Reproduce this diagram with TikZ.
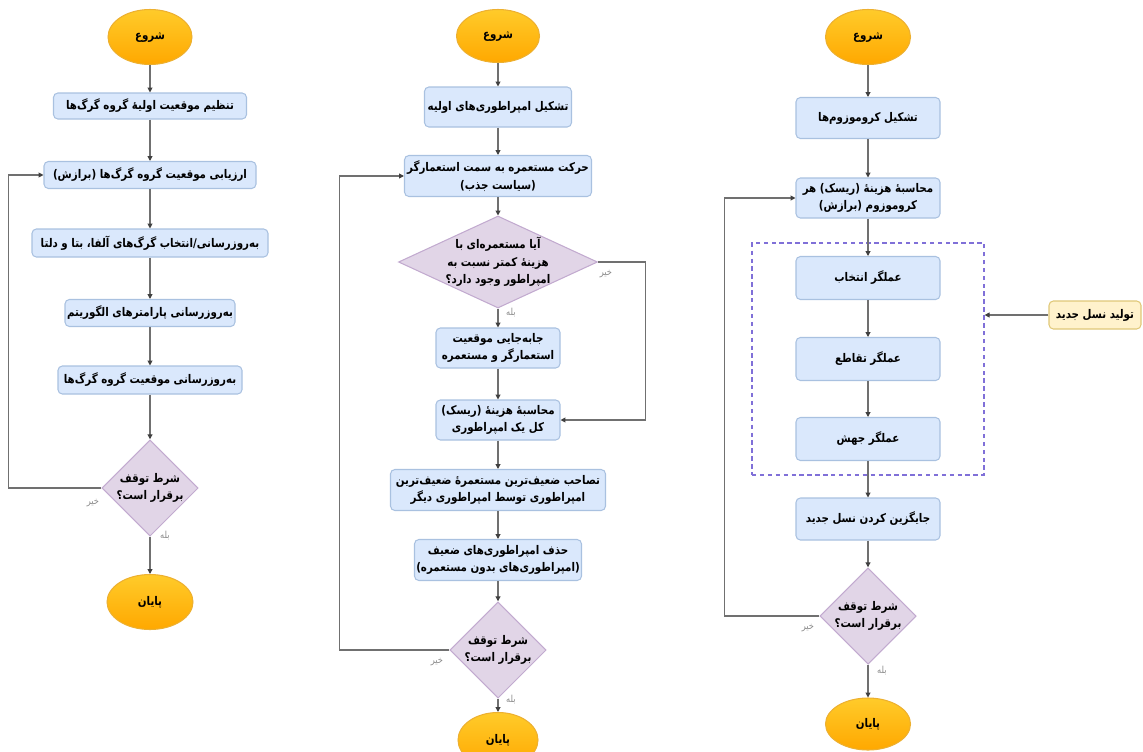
\documentclass[tikz,border=0pt]{standalone}
\usepackage{fontspec}
\usetikzlibrary{shapes.geometric,arrows.meta}
\TeXXeTstate=1
\newfontfamily\arabicfont[Script=Arabic,FakeStretch=0.86]{DejaVu Sans}
\newcommand\prs[1]{{\arabicfont\bfseries\beginR #1\endR}}
\newcommand\lbl[1]{{\arabicfont\beginR #1\endR}}
\def\U{0.02cm}
\definecolor{boxfill}{HTML}{DAE8FC}
\definecolor{boxdraw}{HTML}{A9C1E0}
\definecolor{decfill}{HTML}{E1D5E7}
\definecolor{decdraw}{HTML}{C2AACF}
\definecolor{termtop}{HTML}{FFCB2A}
\definecolor{termbot}{HTML}{FFA800}
\definecolor{termdraw}{HTML}{EDB030}
\definecolor{linecol}{HTML}{707070}
\definecolor{labcol}{HTML}{8A8A8A}
\definecolor{grpcol}{HTML}{8070D8}
\definecolor{yelfill}{HTML}{FFF2CC}
\definecolor{yeldraw}{HTML}{E0C878}
\tikzset{
  box/.style={draw=boxdraw, fill=boxfill, rounded corners=2.5pt, line width=0.6pt, inner sep=1pt, align=center, font=\fontsize{6.8}{10}\selectfont},
  term/.style={ellipse, draw=termdraw, top color=termtop, bottom color=termbot, line width=0.6pt, inner sep=0pt, font=\fontsize{6.8}{10}\selectfont},
  dec/.style={diamond, draw=decdraw, fill=decfill, line width=0.6pt, inner sep=0pt, align=center, font=\fontsize{6.8}{10}\selectfont},
  arr/.style={draw=linecol, line width=0.6pt, -{Triangle[length=2.8pt,width=2.8pt,color=black!75]}},
  lab/.style={text=labcol, inner sep=0pt, font=\fontsize{5.5}{6}\selectfont},
  grp/.style={draw=grpcol, dashed, dash pattern=on 2.5pt off 2pt, line width=0.7pt, inner sep=0pt},
  ybox/.style={draw=yeldraw, fill=yelfill, rounded corners=2.5pt, line width=0.6pt, inner sep=1pt, font=\fontsize{6.8}{10}\selectfont}
}
\begin{document}
\begin{tikzpicture}[x=0.02cm,y=-0.02cm]
\useasboundingbox (0,0) rectangle (1143,751);
% ---------------- left column ----------------
\node[term, minimum width=84*\U, minimum height=55*\U] (ls) at (150,37) {\prs{شروع}};
\node[box, minimum width=193*\U, minimum height=26*\U] (l1) at (150,106) {\prs{تنظیم موقعیت اولیه^^^^0654 گروه گرگ^^^^200cها}};
\node[box, minimum width=212*\U, minimum height=27*\U] (l2) at (150,175) {\prs{ارزیابی موقعیت گروه گرگ^^^^200cها (برازش)}};
\node[box, minimum width=236*\U, minimum height=28*\U] (l3) at (150,243) {\prs{به^^^^200cروزرسانی/انتخاب گرگ^^^^200cهای آلفا، بتا و دلتا}};
\node[box, minimum width=170*\U, minimum height=27*\U] (l4) at (150,313) {\prs{به^^^^200cروزرسانی پارامترهای الگوریتم}};
\node[box, minimum width=184*\U, minimum height=28*\U] (l5) at (150,380) {\prs{به^^^^200cروزرسانی موقعیت گروه گرگ^^^^200cها}};
\node[dec, aspect=1, minimum width=94*\U, minimum height=93*\U] (ld) at (150,488) {\prs{شرط توقف}\\\prs{برقرار است؟}};
\node[term, minimum width=86*\U, minimum height=55*\U] (le) at (150,602) {\prs{پایان}};
\draw[arr] (ls.south) -- (l1.north);
\draw[arr] (l1.south) -- (l2.north);
\draw[arr] (l2.south) -- (l3.north);
\draw[arr] (l3.south) -- (l4.north);
\draw[arr] (l4.south) -- (l5.north);
\draw[arr] (l5.south) -- (ld.north);
\draw[arr] (ld.south) -- (le.north);
\draw[arr] (ld.west) -- ++(-93,0) |- (l2.west);
\node[lab] (lno) at (93,503) {\lbl{خیر}};
\node[lab] (lyes) at (165,536) {\lbl{بله}};
% ---------------- middle column ----------------
\node[term, minimum width=83*\U, minimum height=53*\U] (ms) at (498,36) {\prs{شروع}};
\node[box, minimum width=147*\U, minimum height=40*\U] (m1) at (498,107) {\prs{تشکیل امپراطوری^^^^200cهای اولیه}};
\node[box, minimum width=187*\U, minimum height=41*\U] (m2) at (498,176) {\prs{حرکت مستعمره به سمت استعمارگر}\\\prs{(سیاست جذب)}};
\node[dec, aspect=2.16, inner sep=-2pt, minimum width=199*\U, minimum height=92*\U] (md1) at (498,262) {\prs{آیا مستعمره^^^^200cای با}\\\prs{هزینه^^^^0654 کمتر نسبت به}\\\prs{امپراطور وجود دارد؟}};
\node[box, minimum width=124*\U, minimum height=40*\U] (m3) at (498,348) {\prs{جابه^^^^200cجایی موقعیت}\\\prs{استعمارگر و مستعمره}};
\node[box, minimum width=124*\U, minimum height=40*\U] (m4) at (498,420) {\prs{محاسبه^^^^0654 هزینه^^^^0654 (ریسک)}\\\prs{کل یک امپراطوری}};
\node[box, minimum width=215*\U, minimum height=41*\U] (m5) at (498,490) {\prs{تصاحب ضعیف^^^^200cترین مستعمره^^^^0654 ضعیف^^^^200cترین}\\\prs{امپراطوری توسط امپراطوری دیگر}};
\node[box, minimum width=166*\U, minimum height=41*\U] (m6) at (498,560) {\prs{حذف امپراطوری^^^^200cهای ضعیف}\\\prs{(امپراطوری^^^^200cهای بدون مستعمره)}};
\node[dec, aspect=1, minimum width=91*\U, minimum height=90*\U] (md2) at (498,650) {\prs{شرط توقف}\\\prs{برقرار است؟}};
\node[term, minimum width=80*\U, minimum height=55*\U] (me) at (498,740) {\prs{پایان}};
\draw[arr] (ms.south) -- (m1.north);
\draw[arr] (m1.south) -- (m2.north);
\draw[arr] (m2.south) -- (md1.north);
\draw[arr] (md1.south) -- (m3.north);
\draw[arr] (m3.south) -- (m4.north);
\draw[arr] (m4.south) -- (m5.north);
\draw[arr] (m5.south) -- (m6.north);
\draw[arr] (m6.south) -- (md2.north);
\draw[arr] (md2.south) -- (me.north);
\draw[arr] (md1.east) -- ++(47,0) |- (m4.east);
\draw[arr] (md2.west) -- ++(-110,0) |- (m2.west);
\node[lab] (mno1) at (606,274) {\lbl{خیر}};
\node[lab] (myes1) at (511,313) {\lbl{بله}};
\node[lab] (mno2) at (437,662) {\lbl{خیر}};
\node[lab] (myes2) at (511,700) {\lbl{بله}};
% ---------------- right column ----------------
\node[grp, minimum width=232*\U, minimum height=232*\U] (grp) at (868,359) {};
\node[term, minimum width=85*\U, minimum height=55*\U] (rs) at (868,37) {\prs{شروع}};
\node[box, minimum width=144*\U, minimum height=41*\U] (r1) at (868,118) {\prs{تشکیل کروموزوم^^^^200cها}};
\node[box, minimum width=144*\U, minimum height=40*\U] (r2) at (868,198) {\prs{محاسبه^^^^0654 هزینه^^^^0654 (ریسک) هر}\\\prs{کروموزوم (برازش)}};
\node[box, minimum width=144*\U, minimum height=43*\U] (r3) at (868,278) {\prs{عملگر انتخاب}};
\node[box, minimum width=144*\U, minimum height=43*\U] (r4) at (868,359) {\prs{عملگر تقاطع}};
\node[box, minimum width=144*\U, minimum height=43*\U] (r5) at (868,439) {\prs{عملگر جهش}};
\node[box, minimum width=144*\U, minimum height=42*\U] (r6) at (868,519) {\prs{جایگزین کردن نسل جدید}};
\node[dec, aspect=1, minimum width=94*\U, minimum height=94*\U] (rd) at (868,616) {\prs{شرط توقف}\\\prs{برقرار است؟}};
\node[term, minimum width=85*\U, minimum height=52*\U] (re) at (868,724) {\prs{پایان}};
\node[ybox, minimum width=92*\U, minimum height=28*\U] (tolid) at (1095,315) {\prs{تولید نسل جدید}};
\draw[arr] (rs.south) -- (r1.north);
\draw[arr] (r1.south) -- (r2.north);
\draw[arr] (r2.south) -- (r3.north);
\draw[arr] (r3.south) -- (r4.north);
\draw[arr] (r4.south) -- (r5.north);
\draw[arr] (r5.south) -- (r6.north);
\draw[arr] (r6.south) -- (rd.north);
\draw[arr] (rd.south) -- (re.north);
\draw[arr] (rd.west) -- ++(-95,0) |- (r2.west);
\draw[arr] (tolid.west) -- (tolid.west -| grp.east);
\node[lab] (rno) at (808,628) {\lbl{خیر}};
\node[lab] (ryes) at (882,671) {\lbl{بله}};
\end{tikzpicture}
\end{document}
